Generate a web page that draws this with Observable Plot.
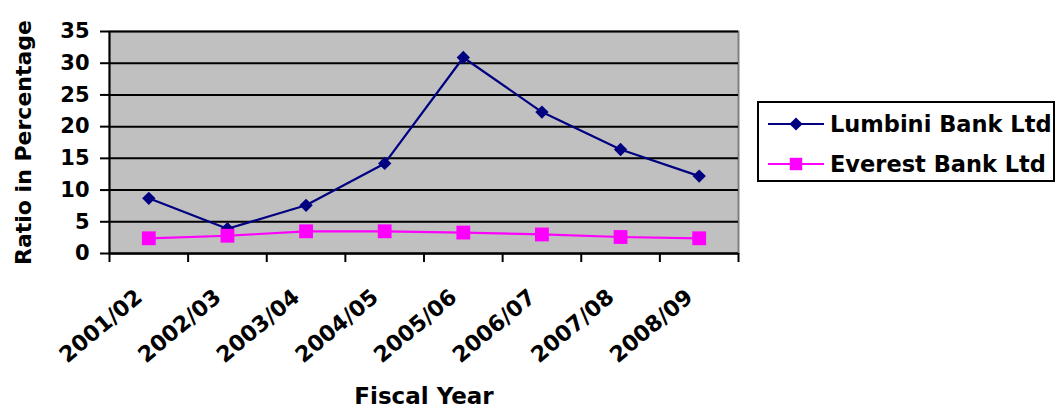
<!DOCTYPE html>
<html>
<head>
<meta charset="utf-8">
<script src="https://cdn.jsdelivr.net/npm/d3@7"></script>
<script src="https://cdn.jsdelivr.net/npm/@observablehq/plot@0.6"></script>
<style>
  html, body { margin: 0; padding: 0; background: #fff; }
  #chart { position: relative; width: 1056px; height: 408px; font-family: "DejaVu Sans", sans-serif; color: #000; }
  #chart svg { display: block; }
  .legend { position: absolute; left: 757px; top: 101px; width: 298px; height: 81px; border: 2px solid #000;
            box-sizing: border-box; padding: 1px 0 0 9px; background: #fff; }
  .legend .row { display: flex; align-items: center; height: 40px; }
  .legend svg { margin-right: 6px; flex: none; }
  .legend span { font: bold 22.5px "DejaVu Sans", sans-serif; white-space: nowrap; }
</style>
</head>
<body>
<div id="chart"></div>
<script>
// ---- data ----
const years = ["2001/02", "2002/03", "2003/04", "2004/05", "2005/06", "2006/07", "2007/08", "2008/09"];
const lumbini = [8.7, 3.9, 7.6, 14.2, 30.9, 22.3, 16.4, 12.2];
const everest = [2.4, 2.8, 3.5, 3.5, 3.3, 3.0, 2.6, 2.4];
const yTicks = [0, 5, 10, 15, 20, 25, 30, 35];
const seriesNames = ["Lumbini Bank Ltd", "Everest Bank Ltd"];
const seriesColors = ["#000080", "#FF00FF"];
const yTitle = "Ratio in Percentage";
const xTitle = "Fiscal Year";

const rows = years.flatMap((year, i) => [
  { i, year, series: seriesNames[0], value: lumbini[i] },
  { i, year, series: seriesNames[1], value: everest[i] }
]);
const boundaries = d3.range(0, years.length + 1);
const xc = d => d.i + 0.5;

const plot = Plot.plot({
  width: 1056,
  height: 408,
  marginLeft: 109,
  marginRight: 318,
  marginTop: 31,
  marginBottom: 155,
  style: { fontFamily: "DejaVu Sans", fontWeight: "bold", color: "#000", background: "transparent", overflow: "visible" },
  x: { domain: [0, years.length], axis: null },
  y: { domain: [0, 35], axis: null },
  color: { domain: seriesNames, range: seriesColors },
  marks: [
    Plot.frame({ fill: "#C0C0C0", stroke: "#808080", strokeWidth: 2 }),
    Plot.gridY(yTicks, { stroke: "#000", strokeOpacity: 1, strokeWidth: 2 }),
    Plot.ruleX([0], { stroke: "#000", strokeWidth: 2 }),
    Plot.ruleY([0], { stroke: "#000", strokeWidth: 2 }),
    Plot.axisY({ ticks: yTicks, tickSize: 9, tickPadding: 11, fontSize: 21, fontWeight: "bold",
                 tickFormat: d => String(d), label: null, stroke: "#000", strokeWidth: 2 }),
    Plot.axisX({ ticks: boundaries, tickSize: 9, tickFormat: () => "", label: null, stroke: "#000", strokeWidth: 2 }),
    Plot.text(years, { x: (d, i) => i + 0.5, frameAnchor: "bottom", rotate: -40, textAnchor: "end",
                       lineAnchor: "bottom", dx: -5, dy: 46, fontSize: 22, fontWeight: "bold", fill: "#000" }),
    Plot.text([yTitle], { frameAnchor: "left", textAnchor: "middle", lineAnchor: "middle", rotate: -90, dx: -86,
                          fontSize: 22, fontWeight: "bold", fill: "#000" }),
    Plot.text([xTitle], { frameAnchor: "bottom", textAnchor: "middle", lineAnchor: "bottom", dy: 150,
                          fontSize: 23, fontWeight: "bold", fill: "#000" }),
    Plot.line(rows, { x: xc, y: "value", z: "series", stroke: "series", strokeWidth: 2.2 }),
    Plot.dot(rows.filter(d => d.series === seriesNames[0]), { x: xc, y: "value", symbol: "diamond2", r: 6, fill: "series", stroke: "none" }),
    Plot.dot(rows.filter(d => d.series === seriesNames[1]), { x: xc, y: "value", symbol: "square", r: 7.8, fill: "series", stroke: "none" })
  ]
});

const chart = document.getElementById("chart");
chart.appendChild(plot);

// ---- legend ----
const legend = d3.select(chart).append("div").attr("class", "legend");
seriesNames.forEach((name, k) => {
  const row = legend.append("div").attr("class", "row");
  const sw = row.append("svg").attr("width", 56).attr("height", 20);
  sw.append("line").attr("x1", 0).attr("x2", 56).attr("y1", 10).attr("y2", 10)
    .attr("stroke", seriesColors[k]).attr("stroke-width", 2);
  const sym = k === 0 ? d3.symbolDiamond2 : d3.symbolSquare;
  const size = k === 0 ? Math.PI * 5.9 * 5.9 : Math.PI * 7 * 7;
  sw.append("path").attr("transform", "translate(28,10)").attr("d", d3.symbol(sym, size)())
    .attr("fill", seriesColors[k]);
  row.append("span").text(name);
});
</script>
</body>
</html>
